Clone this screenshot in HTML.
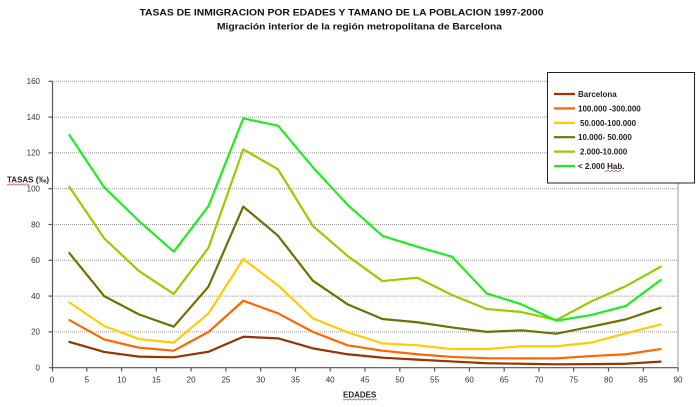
<!DOCTYPE html>
<html>
<head>
<meta charset="utf-8">
<style>
  html,body{margin:0;padding:0;background:#fff;}
  svg{display:block;font-family:"Liberation Sans",Arial,sans-serif;}
</style>
</head>
<body>
<svg width="700" height="407" viewBox="0 0 700 407" xmlns="http://www.w3.org/2000/svg">
  <rect x="0" y="0" width="700" height="407" fill="#fff"/>

  <!-- Titles -->
  <text x="139.5" y="15.7" font-size="9.5" font-weight="bold" fill="#111" textLength="404" lengthAdjust="spacingAndGlyphs">TASAS DE INMIGRACION POR EDADES Y TAMANO DE LA POBLACION 1997-2000</text>
  <text x="217" y="29.5" font-size="9.5" font-weight="bold" fill="#111" textLength="285" lengthAdjust="spacingAndGlyphs">Migración interior de la región metropolitana de Barcelona</text>

  <!-- Gridlines -->
  <g stroke="#9a9a9a" stroke-width="1" stroke-dasharray="1,1">
    <line x1="52" y1="331.9" x2="678" y2="331.9"/>
    <line x1="52" y1="296.1" x2="678" y2="296.1"/>
    <line x1="52" y1="260.3" x2="678" y2="260.3"/>
    <line x1="52" y1="224.5" x2="678" y2="224.5"/>
    <line x1="52" y1="188.7" x2="678" y2="188.7"/>
    <line x1="52" y1="152.9" x2="678" y2="152.9"/>
    <line x1="52" y1="117.1" x2="678" y2="117.1"/>
    <line x1="52" y1="81.3" x2="678" y2="81.3"/>
  </g>
  <!-- Right border -->
  <line x1="678" y1="81.3" x2="678" y2="367.7" stroke="#999" stroke-width="1"/>

  <!-- Axes -->
  <g stroke="#555" stroke-width="1.2">
    <line x1="52.5" y1="81" x2="52.5" y2="368"/>
    <line x1="49" y1="367.7" x2="678" y2="367.7"/>
    <!-- y ticks -->
    <line x1="48.5" y1="331.9" x2="52.5" y2="331.9"/>
    <line x1="48.5" y1="296.1" x2="52.5" y2="296.1"/>
    <line x1="48.5" y1="260.3" x2="52.5" y2="260.3"/>
    <line x1="48.5" y1="224.5" x2="52.5" y2="224.5"/>
    <line x1="48.5" y1="188.7" x2="52.5" y2="188.7"/>
    <line x1="48.5" y1="152.9" x2="52.5" y2="152.9"/>
    <line x1="48.5" y1="117.1" x2="52.5" y2="117.1"/>
    <line x1="48.5" y1="81.3" x2="52.5" y2="81.3"/>
    <!-- x ticks -->
    <line x1="52.5" y1="367.7" x2="52.5" y2="371.5"/>
    <line x1="86.8" y1="367.7" x2="86.8" y2="371.5"/>
    <line x1="121.6" y1="367.7" x2="121.6" y2="371.5"/>
    <line x1="156.3" y1="367.7" x2="156.3" y2="371.5"/>
    <line x1="191.1" y1="367.7" x2="191.1" y2="371.5"/>
    <line x1="225.9" y1="367.7" x2="225.9" y2="371.5"/>
    <line x1="260.7" y1="367.7" x2="260.7" y2="371.5"/>
    <line x1="295.5" y1="367.7" x2="295.5" y2="371.5"/>
    <line x1="330.2" y1="367.7" x2="330.2" y2="371.5"/>
    <line x1="365" y1="367.7" x2="365" y2="371.5"/>
    <line x1="399.8" y1="367.7" x2="399.8" y2="371.5"/>
    <line x1="434.6" y1="367.7" x2="434.6" y2="371.5"/>
    <line x1="469.4" y1="367.7" x2="469.4" y2="371.5"/>
    <line x1="504.2" y1="367.7" x2="504.2" y2="371.5"/>
    <line x1="538.9" y1="367.7" x2="538.9" y2="371.5"/>
    <line x1="573.7" y1="367.7" x2="573.7" y2="371.5"/>
    <line x1="608.5" y1="367.7" x2="608.5" y2="371.5"/>
    <line x1="643.3" y1="367.7" x2="643.3" y2="371.5"/>
    <line x1="678" y1="367.7" x2="678" y2="371.5"/>
  </g>

  <!-- Y labels -->
  <g font-size="8" fill="#333" text-anchor="end">
    <text x="40" y="370.5">0</text>
    <text x="40" y="334.7">20</text>
    <text x="40" y="298.9">40</text>
    <text x="40" y="263.1">60</text>
    <text x="40" y="227.3">80</text>
    <text x="40" y="191.5">100</text>
    <text x="40" y="155.7">120</text>
    <text x="40" y="119.9">140</text>
    <text x="40" y="84.1">160</text>
  </g>
  <!-- X labels -->
  <g font-size="8" fill="#333" text-anchor="middle">
    <text x="52" y="382.7">0</text>
    <text x="86.8" y="382.7">5</text>
    <text x="121.6" y="382.7">10</text>
    <text x="156.3" y="382.7">15</text>
    <text x="191.1" y="382.7">20</text>
    <text x="225.9" y="382.7">25</text>
    <text x="260.7" y="382.7">30</text>
    <text x="295.5" y="382.7">35</text>
    <text x="330.2" y="382.7">40</text>
    <text x="365" y="382.7">45</text>
    <text x="399.8" y="382.7">50</text>
    <text x="434.6" y="382.7">55</text>
    <text x="469.4" y="382.7">60</text>
    <text x="504.2" y="382.7">65</text>
    <text x="538.9" y="382.7">70</text>
    <text x="573.7" y="382.7">75</text>
    <text x="608.5" y="382.7">80</text>
    <text x="643.3" y="382.7">85</text>
    <text x="678" y="382.7">90</text>
  </g>

  <!-- Axis titles -->
  <text x="7" y="182.5" font-size="8" font-weight="bold" fill="#222">TASAS (‰)</text>
  <path d="M7 184.5 q1 1 2 0 t2 0 t2 0 t2 0 t2 0 t2 0 t2 0 t2 0 t2 0 t2 0 t2 0" stroke="#d33" stroke-width="0.6" fill="none"/>
  <text x="343" y="397.5" font-size="8" font-weight="bold" fill="#222">EDADES</text>
  <path d="M343 399.5 q1 1 2 0 t2 0 t2 0 t2 0 t2 0 t2 0 t2 0 t2 0 t2 0 t2 0 t2 0 t2 0 t2 0 t2 0 t2 0 t2 0 t2 0" stroke="#d33" stroke-width="0.6" fill="none"/>

  <!-- Series -->
  <g transform="translate(52,367.7) scale(6.956,-1.79)" fill="none" stroke-width="2.2" stroke-linejoin="round" stroke-linecap="round">
    <polyline vector-effect="non-scaling-stroke" stroke="#993300" points="2.5,14.4 7.5,8.8 12.5,6.2 17.5,5.8 22.5,8.9 27.5,17.3 32.5,16.4 37.5,10.8 42.5,7.5 47.5,5.6 52.5,4.5 57.5,3.5 62.5,2.5 67.5,2.2 72.5,1.9 77.5,2 82.5,2.2 87.5,3.4"/>
    <polyline vector-effect="non-scaling-stroke" stroke="#FF6600" points="2.5,26.6 7.5,15.8 12.5,11.2 17.5,9.5 22.5,20 27.5,37.4 32.5,30.4 37.5,20 42.5,12.5 47.5,9.5 52.5,7.5 57.5,6 62.5,5.3 67.5,5.2 72.5,5.2 77.5,6.5 82.5,7.5 87.5,10.4"/>
    <polyline vector-effect="non-scaling-stroke" stroke="#FFCC00" points="2.5,36.5 7.5,23.3 12.5,16 17.5,14 22.5,30.4 27.5,60.7 32.5,46 37.5,27.6 42.5,19.8 47.5,13.6 52.5,12.5 57.5,10.4 62.5,10.4 67.5,12 72.5,12 77.5,14 82.5,19.2 87.5,24.2"/>
    <polyline vector-effect="non-scaling-stroke" stroke="#707000" points="2.5,64 7.5,40 12.5,29.8 17.5,22.9 22.5,45.3 27.5,90 32.5,73.7 37.5,48.6 42.5,35.4 47.5,27.2 52.5,25.4 57.5,22.5 62.5,20 67.5,20.9 72.5,19 77.5,22.9 82.5,27 87.5,33.5"/>
    <polyline vector-effect="non-scaling-stroke" stroke="#99CC00" points="2.5,101 7.5,72.3 12.5,54 17.5,41.2 22.5,67 27.5,122 32.5,110.8 37.5,79.2 42.5,62.4 47.5,48.4 52.5,50.3 57.5,40.6 62.5,32.8 67.5,31.1 72.5,26.6 77.5,37 82.5,45.6 87.5,56.4"/>
    <polyline vector-effect="non-scaling-stroke" stroke="#1EEE1E" points="2.5,130 7.5,100.8 12.5,82 17.5,64.8 22.5,90.3 27.5,139.3 32.5,135.2 37.5,112 42.5,91 47.5,73.7 52.5,67.6 57.5,62 62.5,41.5 67.5,35.4 72.5,26.3 77.5,29.4 82.5,34.5 87.5,49"/>
  </g>

  <!-- Legend -->
  <rect x="547.5" y="72.5" width="147" height="110.5" fill="#fff" stroke="#222" stroke-width="1"/>
  <g stroke-width="2.2">
    <line x1="554" y1="94" x2="575" y2="94" stroke="#993300"/>
    <line x1="554" y1="108.4" x2="575" y2="108.4" stroke="#FF6600"/>
    <line x1="554" y1="122.9" x2="575" y2="122.9" stroke="#FFCC00"/>
    <line x1="554" y1="137.2" x2="575" y2="137.2" stroke="#707000"/>
    <line x1="554" y1="151.6" x2="575" y2="151.6" stroke="#99CC00"/>
    <line x1="554" y1="166" x2="575" y2="166" stroke="#1EEE1E"/>
  </g>
  <g font-size="8" font-weight="bold" fill="#222">
    <text x="578" y="97">Barcelona</text>
    <text x="578" y="111.4">100.000 -300.000</text>
    <text x="580" y="125.9">50.000-100.000</text>
    <text x="578" y="140.2">10.000- 50.000</text>
    <text x="580" y="154.6">2.000-10.000</text>
    <text x="578" y="169">&lt; 2.000 Hab.</text>
  </g>
  <path d="M605 171 q1 1 2 0 t2 0 t2 0 t2 0 t2 0 t2 0 t2 0 t2 0" stroke="#d33" stroke-width="0.6" fill="none"/>
</svg>
</body>
</html>
